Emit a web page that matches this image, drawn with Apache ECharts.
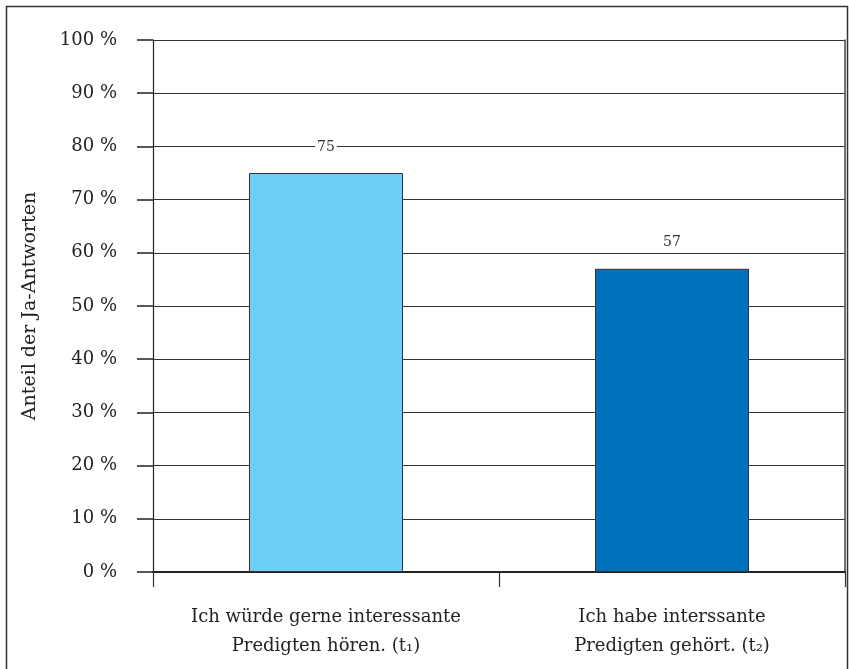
<!DOCTYPE html>
<html><head><meta charset="utf-8">
<script src="https://cdn.jsdelivr.net/npm/echarts@6/dist/echarts.min.js"></script>
<style>html,body{margin:0;padding:0;background:#fff}#c{width:849px;height:669px}</style>
</head><body><div id="c"></div>
<script>
const categories = ['Ich würde gerne interessante\nPredigten hören. (t₁)', 'Ich habe interssante\nPredigten gehört. (t₂)'];
const values = [75, 57];
const barColors = ['#6dcff6', '#0072bc'];
const yTicks = [0, 10, 20, 30, 40, 50, 60, 70, 80, 90, 100];
const yTitle = 'Anteil der Ja-Antworten';

const font = '"DejaVu Serif", "Liberation Serif", serif';
const chart = echarts.init(document.getElementById('c'), null, {renderer: 'canvas'});
chart.setOption({
  animation: false,
  backgroundColor: '#fff',
  textStyle: {fontFamily: font},
  graphic: [{
    type: 'rect', shape: {x: 6.5, y: 6.5, width: 841, height: 700},
    style: {fill: 'none', stroke: '#333', lineWidth: 1.5}, silent: true
  }],
  grid: {left: 153, right: 4, top: 40, bottom: 97, containLabel: false},
  xAxis: {
    type: 'category', data: categories, boundaryGap: true,
    axisLine: {show: true, lineStyle: {color: '#222', width: 2}},
    axisTick: {show: true, length: 15, alignWithLabel: false, lineStyle: {color: '#333', width: 1.2}},
    axisLabel: {margin: 31, color: '#222', fontSize: 18, lineHeight: 29, fontFamily: font, interval: 0}
  },
  yAxis: [{
    type: 'value', min: yTicks[0], max: yTicks[yTicks.length - 1], interval: 10,
    name: yTitle, nameLocation: 'middle', nameGap: 113, nameRotate: 90,
    nameTextStyle: {color: '#222', fontSize: 19, fontFamily: font},
    axisLine: {show: true, lineStyle: {color: '#222', width: 1.2}},
    axisTick: {show: true, length: 16, lineStyle: {color: '#222', width: 1.5}},
    axisLabel: {margin: 36, color: '#222', fontSize: 18, fontFamily: font,
      padding: [0, 0, 10, 0], formatter: v => v + ' %'},
    splitLine: {show: true, lineStyle: {color: '#333', width: 1.2}}
  }, {
    type: 'value', min: 0, max: 100, interval: 10, position: 'right',
    axisLine: {show: true, lineStyle: {color: '#444', width: 1.5}},
    axisTick: {show: false}, axisLabel: {show: false}, splitLine: {show: false}
  }],
  series: [{
    type: 'bar', yAxisIndex: 0, barWidth: 154,
    data: values.map((v, i) => ({value: v, itemStyle: {color: barColors[i]}})),
    itemStyle: {borderColor: '#333', borderWidth: 1},
    label: {show: true, position: 'top', distance: 18, color: '#333', fontSize: 14,
      fontFamily: font, backgroundColor: '#fff', padding: [1, 2, 1, 2]}
  }]
});
</script></body></html>
